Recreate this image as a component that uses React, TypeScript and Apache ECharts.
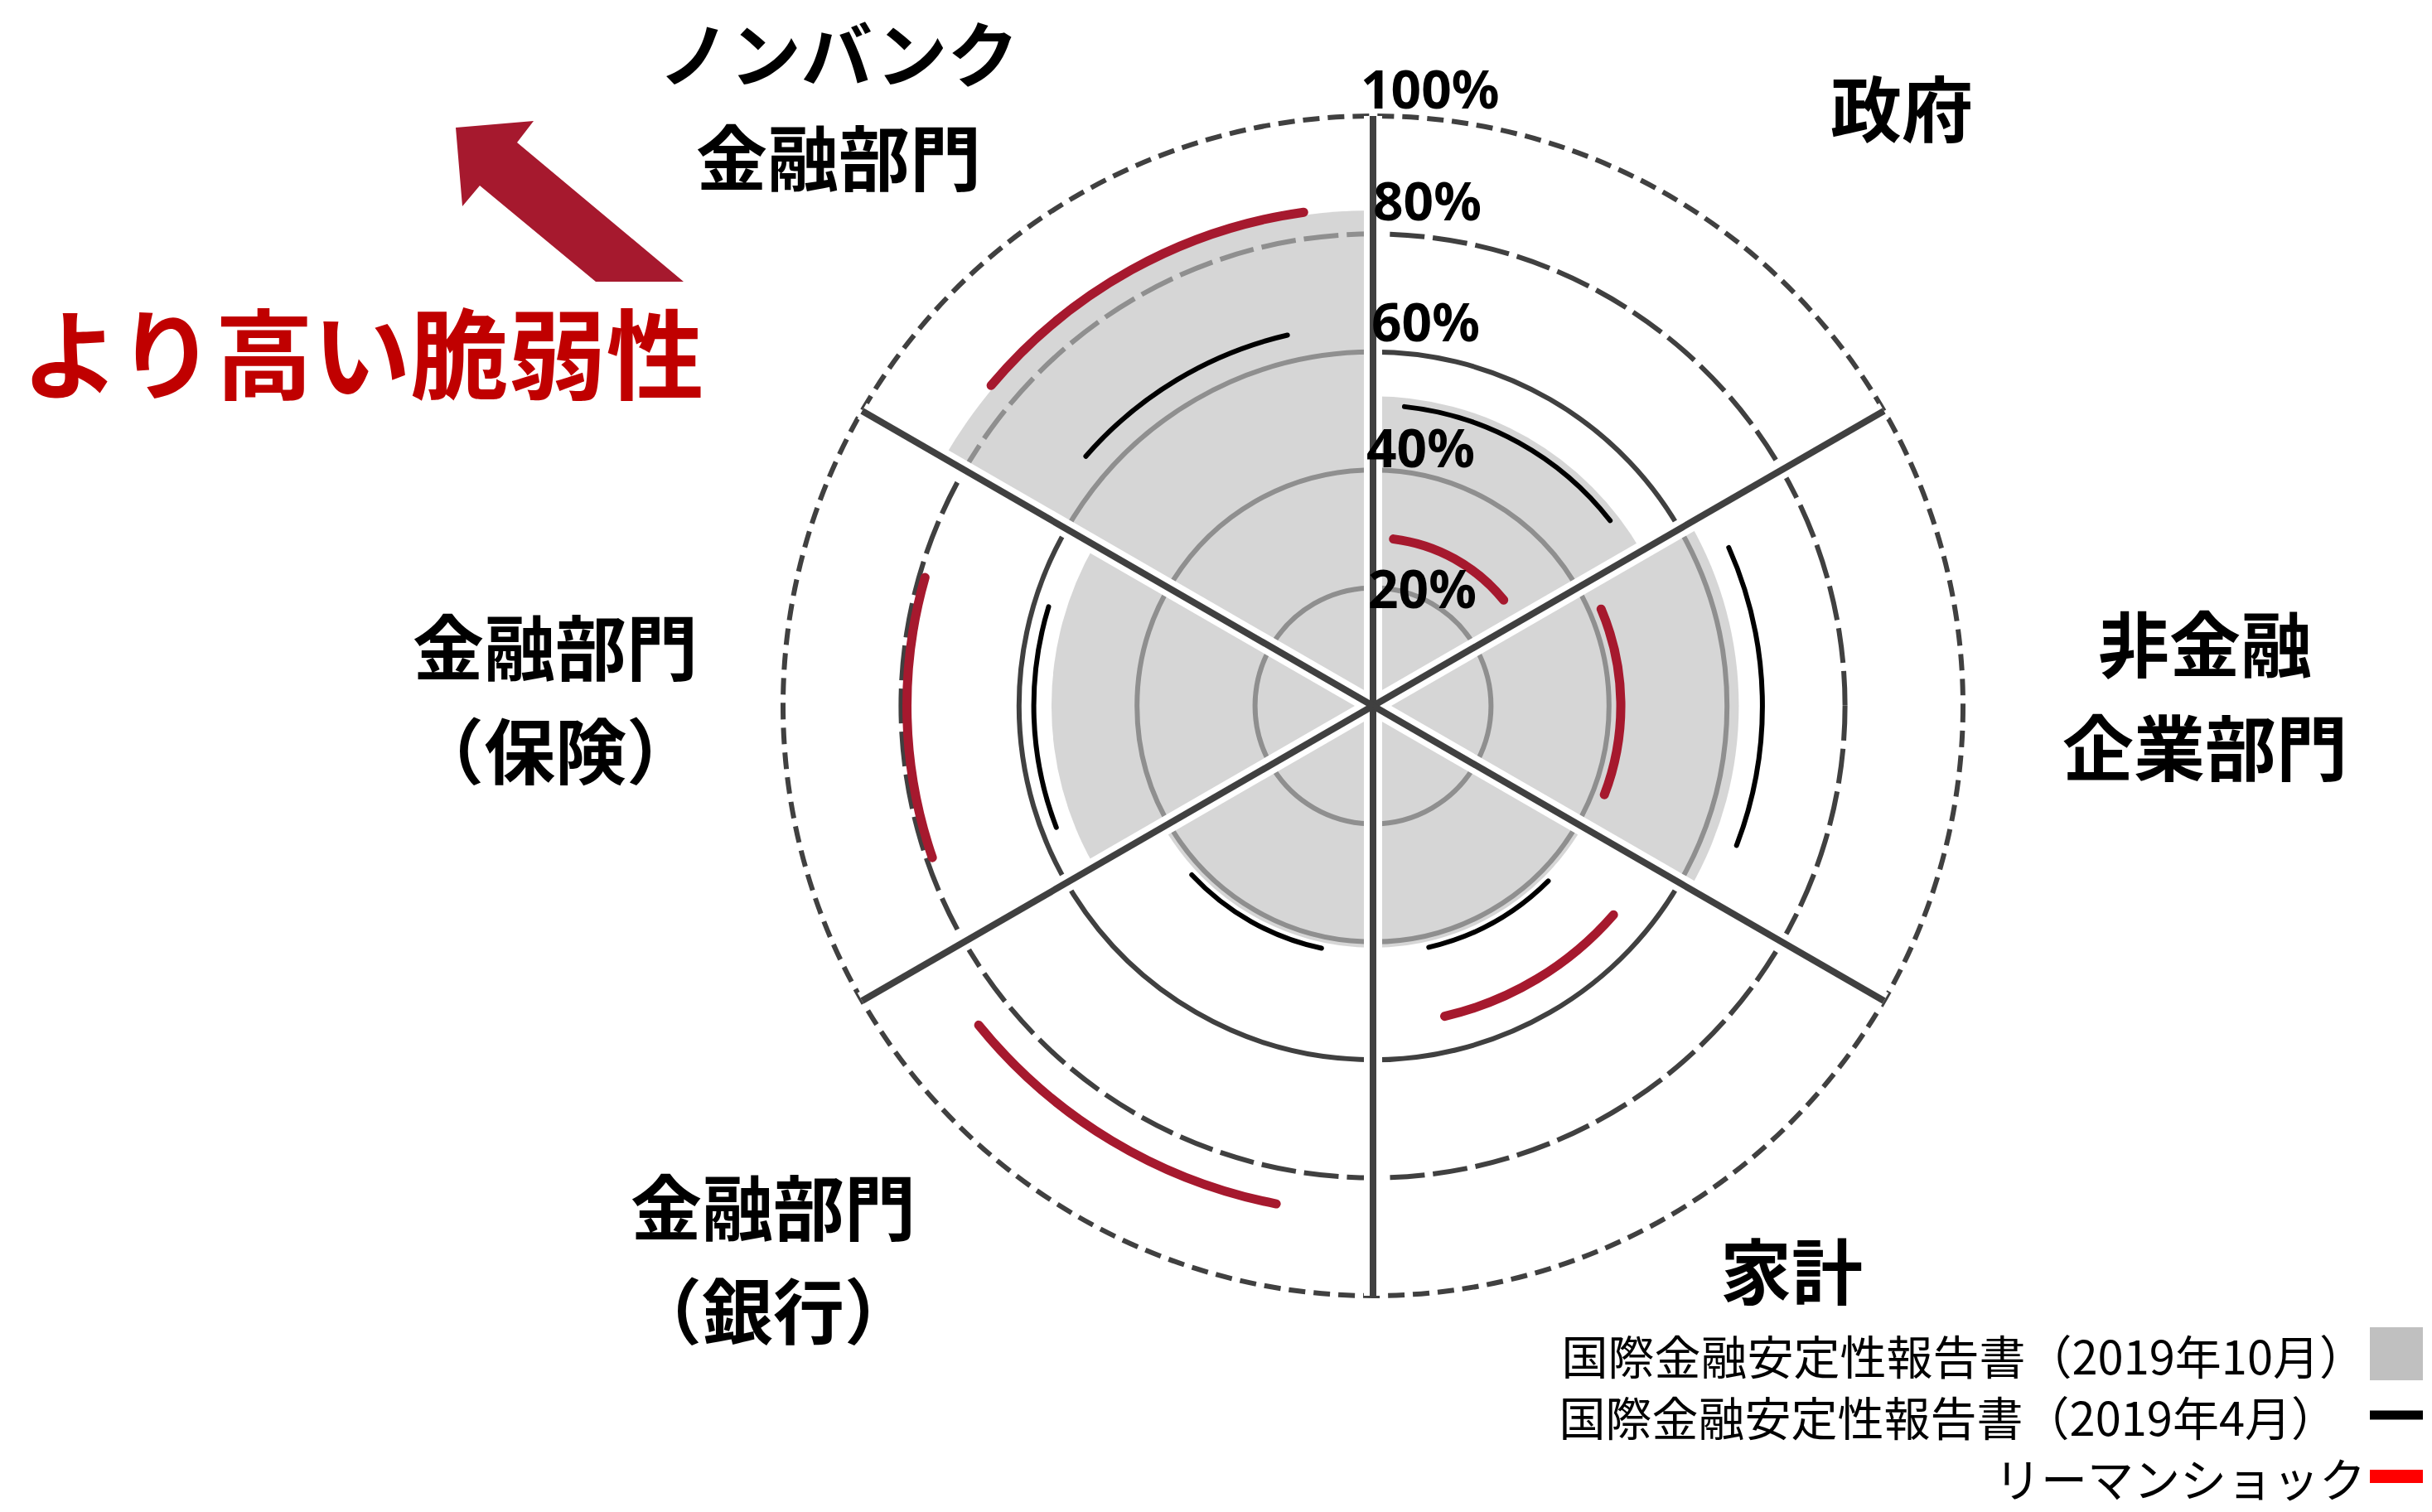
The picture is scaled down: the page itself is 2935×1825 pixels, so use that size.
import React, { useEffect, useRef } from 'react';
import * as echarts from 'echarts';

// ---- data ----
const categories = ['政府', '非金融企業部門', '家計', '金融部門（銀行）', '金融部門（保険）', 'ノンバンク金融部門'];
const categoryLabels = ['政府', '非金融\n企業部門', '家計', '金融部門\n（銀行）', '金融部門\n（保険）', 'ノンバンク\n金融部門'];
// sector start bearing (degrees clockwise from top), each sector is 60 degrees wide
const sectorStart = [0, 60, 120, 180, 240, 300];
const sectorWidth = 60;
// 国際金融安定性報告書（2019年10月） – grey sectors (%)
const gfsrOct2019 = [52.5, 62, 41, 41, 54.5, 84];
// 国際金融安定性報告書（2019年4月） – black arcs (%), and their angular span
const gfsrApr2019 = [51, 66, 42, 42, 57.5, 64.5];
const gfsrApr2019Span = [[6, 52], [66, 111], [135, 167], [192, 227], [249, 287], [311, 347]];
// リーマンショック – red arcs (%), and their angular span
const lehman = [28.5, 42, 54, 86, 79, 84.5];
const lehmanSpan = [[7, 51], [67, 111], [131, 167], [191, 231], [251, 286], [310, 352]];
const ringTicks = [20, 40, 60, 80, 100];
const seriesNames = ['国際金融安定性報告書（2019年10月）', '国際金融安定性報告書（2019年4月）', 'リーマンショック'];
const arrowLabel = 'より高い脆弱性';

// ---- layout (not data) ----
const labelPos = [[2295, 127], [2661, 836], [2162, 1530], [933, 1516], [670, 840], [1012, 124]];
const CJK = '"Noto Sans CJK JP", sans-serif';

function geom(api: any, r: number, b0: number, b1: number) {
  const c = api.coord([0, 0]);
  const p = api.coord([r, b0]);
  const q = api.coord([r, b1]);
  const R = Math.hypot(p[0] - c[0], p[1] - c[1]);
  const a0 = Math.atan2(p[1] - c[1], p[0] - c[0]);
  let a1 = Math.atan2(q[1] - c[1], q[0] - c[0]);
  while (a1 <= a0) a1 += 2 * Math.PI;
  return { cx: c[0], cy: c[1], R, a0, a1 };
}

function arcSeries(name: string, values: number[], spans: number[][], color: string, width: number, z: number) {
  return {
    type: 'custom',
    name,
    coordinateSystem: 'polar',
    z,
    silent: true,
    data: values.map((v, i) => [v, spans[i][0], spans[i][1]]),
    renderItem: (params: any, api: any) => {
      const g = geom(api, api.value(0), api.value(1), api.value(2));
      return {
        type: 'arc',
        shape: { cx: g.cx, cy: g.cy, r: g.R, startAngle: g.a0, endAngle: g.a1, clockwise: true },
        style: { fill: 'none', stroke: color, lineWidth: width, lineCap: 'round' },
      };
    },
  };
}

const tickRich: any = {
  t100: { padding: [0, 0, 68, 0] },
  t80: { padding: [0, 0, 82, 15] },
  t60: { padding: [0, 0, 74, 13] },
  t40: { padding: [0, 0, 56, 7] },
  t20: { padding: [0, 0, 0, 9] },
};
Object.keys(tickRich).forEach((k) => {
  Object.assign(tickRich[k], { fontSize: 64, fontWeight: 'bold', fontFamily: '"Noto Sans", sans-serif', color: '#000' });
});

function buildOption(): any {
  return {
    animation: false,
    backgroundColor: '#ffffff',
    polar: { center: [1657, 852], radius: 712 },
    angleAxis: {
      type: 'value', min: 0, max: 360, interval: 60, startAngle: 90, clockwise: true,
      axisLine: { show: false }, axisTick: { show: false }, axisLabel: { show: false }, splitLine: { show: false },
    },
    radiusAxis: {
      type: 'value', min: 0, max: 100, interval: 20, z: 10,
      axisLine: { show: false }, axisTick: { show: false }, splitLine: { show: false },
      axisLabel: {
        margin: 15,
        align: 'left',
        verticalAlign: 'middle',
        formatter: (v: number) => (v === 0 ? '' : `{t${v}|${v}%}`),
        rich: tickRich,
      },
    },
    legend: {
      right: 11, top: 1600, padding: 0, orient: 'vertical', align: 'right', selectedMode: false,
      itemWidth: 64, itemHeight: 64, itemGap: 6,
      textStyle: {
        fontSize: 56, lineHeight: 68, fontFamily: CJK, color: '#000',
        rich: { p: { fontSize: 56, lineHeight: 68, fontFamily: CJK, color: '#000', padding: [0, 34, 0, 0] } },
      },
      formatter: (name: string) => (name === seriesNames[1] ? `{p|${name}}` : name),
      data: [
        { name: seriesNames[0], icon: 'rect', itemStyle: { color: '#c0c0c0' } },
        { name: seriesNames[1], icon: 'path://M0,0H70V12H0Z', itemStyle: { color: '#000000' } },
        { name: seriesNames[2], icon: 'path://M0,0H64V16H0Z', itemStyle: { color: '#ff0000' } },
      ],
    },
    graphic: [
      ...categoryLabels.map((t, i) => ({
        type: 'text', x: labelPos[i][0], y: labelPos[i][1], z: 20,
        style: { text: t, fontSize: 86, fontWeight: 'bold', fontFamily: CJK, fill: '#000', align: 'center', verticalAlign: 'middle', lineHeight: 125 },
      })),
      {
        type: 'polygon', z: 20,
        shape: { points: [[550, 154], [644, 146], [624, 172], [825, 340], [719, 340], [579, 224], [558, 249]] },
        style: { fill: '#a6192e' },
      },
      {
        type: 'text', x: 438, y: 421, z: 20,
        style: { text: arrowLabel, fontSize: 118, fontWeight: 'bold', fontFamily: CJK, fill: '#c00000', align: 'center', verticalAlign: 'middle' },
      },
    ],
    series: [
      {
        type: 'custom', name: 'rings', coordinateSystem: 'polar', z: 1, silent: true,
        data: ringTicks.map((v) => [v, 0]),
        renderItem: (params: any, api: any) => {
          const v = api.value(0);
          const c = api.coord([0, 0]);
          const p = api.coord([v, 0]);
          const R = Math.hypot(p[0] - c[0], p[1] - c[1]);
          const dash = v === 100 ? [20, 10] : v === 80 ? [42, 10] : null;
          return {
            type: 'circle', shape: { cx: c[0], cy: c[1], r: R },
            style: { fill: 'none', stroke: '#404040', lineWidth: 6, lineDash: dash },
          };
        },
      },
      {
        type: 'custom', name: seriesNames[0], coordinateSystem: 'polar', z: 2, silent: true,
        data: gfsrOct2019.map((v, i) => [v, sectorStart[i], sectorStart[i] + sectorWidth]),
        renderItem: (params: any, api: any) => {
          const g = geom(api, api.value(0), api.value(1), api.value(2));
          return {
            type: 'sector',
            shape: { cx: g.cx, cy: g.cy, r0: 0, r: g.R, startAngle: g.a0, endAngle: g.a1, clockwise: true },
            style: { fill: 'rgba(190,190,190,0.63)' },
          };
        },
      },
      {
        type: 'custom', name: 'dividers', coordinateSystem: 'polar', z: 3, silent: true,
        data: sectorStart.map((b) => [100, b]),
        renderItem: (params: any, api: any) => {
          const c = api.coord([0, 0]);
          const p = api.coord([api.value(0), api.value(1)]);
          const shape = { x1: c[0], y1: c[1], x2: p[0], y2: p[1] };
          return {
            type: 'group',
            children: [
              { type: 'line', z2: 0, shape, style: { stroke: '#ffffff', lineWidth: 22 } },
              { type: 'line', z2: 1, shape, style: { stroke: '#404040', lineWidth: 8 } },
            ],
          };
        },
      },
      arcSeries(seriesNames[1], gfsrApr2019, gfsrApr2019Span, '#000000', 6, 4),
      arcSeries(seriesNames[2], lehman, lehmanSpan, '#a6192e', 11, 5),
    ],
  };
}

export default function App() {
  const ref = useRef<HTMLDivElement>(null);
  useEffect(() => {
    const chart = echarts.init(ref.current as HTMLDivElement, null, { renderer: 'svg' });
    chart.setOption(buildOption());
    return () => chart.dispose();
  }, []);
  return (
    <div
      ref={ref}
      style={{ position: 'absolute', left: 0, top: 0, width: 2935, height: 1825, background: '#ffffff' }}
    />
  );
}
